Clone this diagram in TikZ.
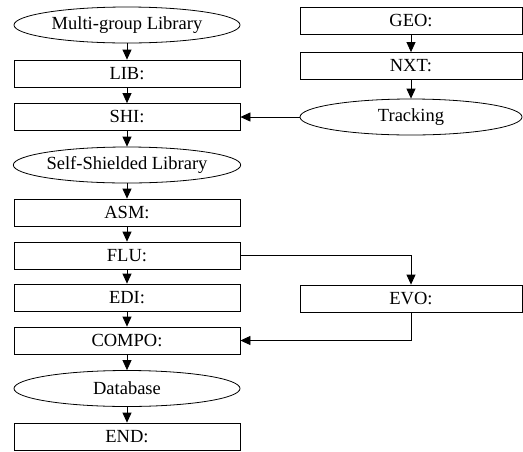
\documentclass[tikz,border=0pt]{standalone}
\usepackage{fontspec}
\setmainfont{Liberation Serif}
\usetikzlibrary{shapes.geometric,arrows.meta}

\begin{document}
\begin{tikzpicture}[x=1pt,y=-1pt]
	\tikzset{modbox/.style={draw,thick,rectangle,inner sep=0pt,minimum width=226pt,minimum height=27pt,font=\fontsize{18.5}{21}\selectfont},
		datell/.style={draw,thick,ellipse,inner sep=0pt,minimum width=226pt,minimum height=36pt,font=\fontsize{18.5}{21}\selectfont},
		flow/.style={thick,-{Triangle[length=10pt,width=9pt]}}}
	\def\xl{127} \def\xr{411}
	\useasboundingbox (0,0) rectangle (523,451);
	% left column
	\node[datell] (mgl) at (\xl,25) {Multi-group Library};
	\node[modbox] (lib) at (\xl,73.5) {LIB:};
	\node[modbox] (shi) at (\xl,117) {SHI:};
	\node[datell] (ssl) at (\xl,165) {Self-Shielded Library};
	\node[modbox] (asm) at (\xl,212.5) {ASM:};
	\node[modbox] (flu) at (\xl,255.5) {FLU:};
	\node[modbox] (edi) at (\xl,297.5) {EDI:};
	\node[modbox] (compo) at (\xl,340.5) {COMPO:};
	\node[datell] (db) at (\xl,388.5) {Database};
	\node[modbox] (end) at (\xl,436.5) {END:};
	% right column
	\node[modbox,minimum width=222pt] (geo) at (\xr,20.5) {GEO:};
	\node[modbox,minimum width=222pt] (nxt) at (\xr,66) {NXT:};
	\node[datell,minimum width=222pt] (trk) at (\xr,117) {Tracking};
	\node[modbox,minimum width=222pt] (evo) at (\xr,298.5) {EVO:};
	% arrows
	\foreach \a/\b in {mgl/lib,lib/shi,shi/ssl,ssl/asm,asm/flu,flu/edi,edi/compo,compo/db,db/end,geo/nxt,nxt/trk}
		\draw[flow] (\a) -- (\b);
	\draw[flow] (trk) -- (shi);
	\draw[flow] (flu.east) -| (evo.north);
	\draw[flow] (evo.south) |- (compo.east);
\end{tikzpicture}
\end{document}
